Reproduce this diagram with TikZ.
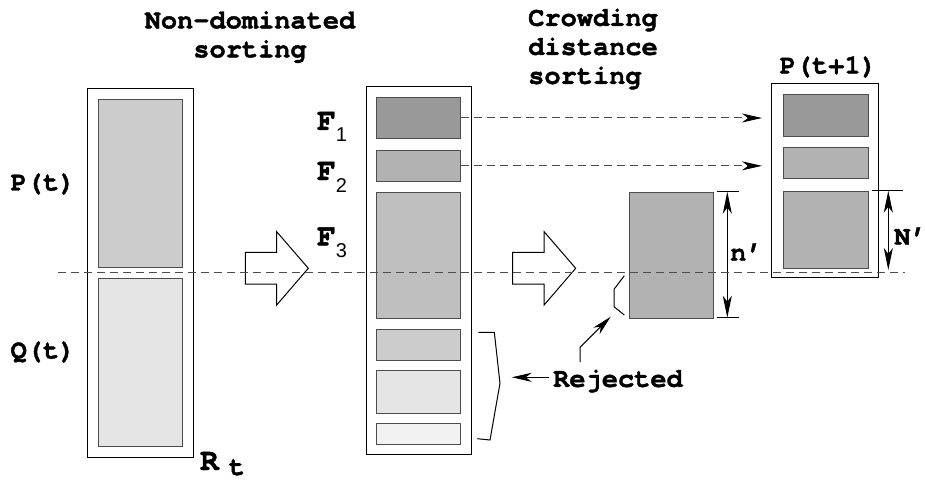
\documentclass[tikz,border=0pt]{standalone}
\usepackage{fontspec}
\setmonofont{TeX Gyre Cursor}[BoldFeatures={FakeBold=1.5}]
\setsansfont{Liberation Sans}
\usetikzlibrary{arrows.meta, positioning}
\tikzset{
  pool/.style={rectangle, draw=black, line width=1pt, inner sep=0, anchor=north west},
  front/.style={rectangle, draw=black!70, line width=1pt, inner sep=0, anchor=north west},
  caption/.style={font=\fontsize{27}{29}\selectfont\ttfamily\bfseries, inner sep=0},
  big/.style={font=\fontsize{31}{31}\selectfont\ttfamily\bfseries, inner sep=0, anchor=base west},
  fat/.style={draw=black, line width=1pt, line join=miter},
  cut/.style={draw=black!70, line width=1pt, dash pattern=on 8pt off 5pt},
  flow/.style={draw=black!70, line width=1pt, dash pattern=on 8pt off 5pt, -{Stealth[length=20pt,width=9pt,inset=6pt,black]}},
  dim/.style={line width=1pt, {Stealth[length=22pt,width=9pt,inset=6pt]}-{Stealth[length=22pt,width=9pt,inset=6pt]}},
  tip/.style={line width=1pt, -{Stealth[length=20pt,width=9pt,inset=6pt]}}
}
\newcommand{\sub}[1]{\raisebox{-12pt}{\sffamily\mdseries\fontsize{20}{20}\selectfont #1}}

\begin{document}
\begin{tikzpicture}[x=1pt, y=-1pt]
  \useasboundingbox (0,0) rectangle (925,481);

  % titles
  \node[caption, align=center](nds) at (250,37){Non-dominated\\sorting};
  \node[caption, align=left, anchor=west](cds) at (528,49){Crowding\\distance\\sorting};

  % R_t = P(t) + Q(t)
  \node[pool, minimum width=105.4pt, minimum height=368.4pt](Rt) at (87.3,88.3){};
  \node[front, fill=black!20, minimum width=84.6pt, minimum height=168.6pt](Pt) at (97.7,98.7){};
  \node[front, fill=black!10, minimum width=84.6pt, minimum height=168.3pt](Qt) at (97.7,277.7){};
  \node[caption](lPt) at (43,184){P(t)};
  \node[caption](lQt) at (43,352){Q(t)};
  \node[big](lRt) at (200,470){R\hspace{10pt}\raisebox{-5pt}{\fontsize{27}{27}\selectfont t}};

  \draw[fat] (245.3,252.3) -- (276.7,252.3) -- (276.7,231.7) -- (308.3,268.3)
    -- (276.7,305) -- (276.7,284) -- (245.3,284) -- cycle;

  % fronts
  \node[pool, minimum width=105pt, minimum height=368pt](Fr) at (365.7,86.3){};
  \node[front, fill=black!40, minimum width=84.3pt, minimum height=41.6pt](F1) at (376,96.7){};
  \node[front, fill=black!30, minimum width=84.3pt, minimum height=31.3pt](F2) at (376,149.7){};
  \node[front, fill=black!25, minimum width=84.3pt, minimum height=126pt](F3) at (376,191.7){};
  \node[front, fill=black!20, minimum width=84.3pt, minimum height=31.3pt](F4) at (376,328.7){};
  \node[front, fill=black!10, minimum width=84.3pt, minimum height=42.4pt](F5) at (376,370.3){};
  \node[front, fill=black!5, minimum width=84.3pt, minimum height=21pt](F6) at (376,423.3){};
  \node[big](lF1) at (317,130){F\sub{1}};
  \node[big](lF2) at (317,180){F\sub{2}};
  \node[big](lF3) at (317,245.5){F\sub{3}};

  \draw[fat] (512.7,252.3) -- (544.1,252.3) -- (544.1,231.7) -- (575.7,268.3)
    -- (544.1,305) -- (544.1,284) -- (512.7,284) -- cycle;

  % front 3 sorted by crowding distance
  \node[front, fill=black!30, minimum width=84.3pt, minimum height=126pt](F3s) at (629,191.7){};
  \draw[line width=1pt] (716.7,191.7) -- (739,191.7);
  \draw[line width=1pt] (716.7,317.7) -- (739,317.7);
  \draw[dim] (727.3,191.7) -- (727.3,317.7);
  \node[caption, anchor=west](ln) at (730,252){n’};

  % P(t+1)
  \node[pool, minimum width=107.3pt, minimum height=194pt](Pn) at (771,83.3){};
  \node[front, fill=black!40, minimum width=84.4pt, minimum height=42pt](N1) at (783.3,94.3){};
  \node[front, fill=black!30, minimum width=84.4pt, minimum height=31.6pt](N2) at (783.3,146.7){};
  \node[front, fill=black!30, minimum width=84.4pt, minimum height=76.7pt](N3) at (783.3,191){};
  \node[caption](lPn) at (828.3,67){P(t+1)};
  \draw[line width=1pt] (871.7,190.7) -- (903.3,190.7);
  \draw[dim] (888.3,190.7) -- (888.3,270);
  \node[caption, anchor=west](lN) at (894,236){N’};

  \draw[flow, shorten >=9pt] (F1.east) -- (F1.east -| Pn.west);
  \draw[flow, shorten >=9pt] (F2.east) -- (F2.east -| Pn.west);

  % rejected
  \node[caption](rej) at (618,381){Rejected};
  \draw[line width=1pt] (478.3,332.3) -- (494.3,332.3) -- (500,383.3) -- (490,440) -- (477.3,438.7);
  \draw[line width=1pt] (624.3,275.7) -- (614,289.3) -- (614,306.7) -- (624.3,315);
  \coordinate (rejUp) at (580,362);
  \draw[tip] (rejUp) -- (580,347.3) -- (610.7,316.7);
  \draw[tip] (rej.west) ++(-4,-3.7) -- (511.7,377.3);

  % cut line
  \draw[cut] (58,272.3) -- (905,272.3);
\end{tikzpicture}
\end{document}
